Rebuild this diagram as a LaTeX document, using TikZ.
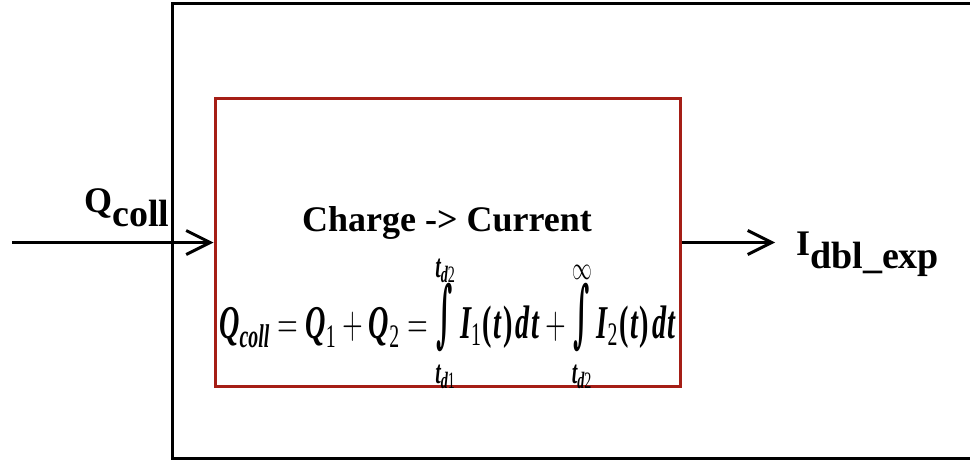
\documentclass[tikz,border=0pt]{standalone}
\usepackage{fix-cm}
\usepackage{amsmath}
\usepackage{graphicx}
\usepackage{fontspec}
\setmainfont{Liberation Serif}
\newfontfamily\intfont{DejaVu Serif}
\usetikzlibrary{arrows.meta}
\definecolor{boxred}{RGB}{165,30,22}
\newcommand{\bi}[1]{\text{\bfseries\itshape #1}}
\newcommand{\ru}[1]{\text{#1}}
\newcommand{\myint}{\mathop{\scalebox{1}[1.55]{\text{\intfont\bfseries ∫}}}\limits}
\newcommand{\uplim}[1]{\raisebox{-3pt}[\height][\depth]{$\scriptstyle #1$}}
\newcommand{\lolim}[1]{\raisebox{-10pt}[\height][\depth]{$\scriptstyle #1$}}
\newcommand{\itdt}[1]{\bi{I}_{\ru{#1}}\mkern1mu\ru{\bfseries(}\mkern1mu\bi{t}\mkern1mu\ru{\bfseries)}\mkern2mu\bi{d}\mkern1mu\bi{t}}
\tikzset{
  lbl/.style={font=\fontsize{36}{38}\selectfont\bfseries, inner sep=0pt},
  flow/.style={line width=3pt, -{Straight Barb[length=24pt,width=24pt]}},
  frame/.style={draw=black, line width=3pt, inner sep=0pt},
  blockbox/.style={draw=boxred, line width=3pt, inner sep=0pt, minimum width=465pt, minimum height=288pt},
  eqn/.style={font=\fontsize{47}{50}\selectfont, inner sep=0pt}
}
\begin{document}
\begin{tikzpicture}[x=1pt,y=-1pt]
\useasboundingbox (0,0) rectangle (970,460);
\clip (0,0) rectangle (970,460);
\node[frame, minimum width=830pt, minimum height=455pt, anchor=north west] (outer) at (170.5,2) {};
\node[blockbox] (conv) at (447.5,242.5) {};
\node[lbl] (title) at (447,223) {Charge -> Current};
\node[eqn, anchor=base] (formula) at (447.5,338) {\scalebox{0.60}[1]{\thickmuskip=5mu\medmuskip=4mu$\bi{Q}_{\bi{coll}} = \bi{Q}_{\ru{1}} + \bi{Q}_{\ru{2}} = \myint_{\lolim{\bi{t}_{\bi{d}\ru{1}}}}^{\uplim{\bi{t}_{\bi{d}\ru{2}}}} \itdt{1} + \myint_{\lolim{\bi{t}_{\bi{d}\ru{2}}}}^{\uplim{\infty}} \itdt{2}$}};
\node[lbl, anchor=base west] (qlab) at (84,212) {Q\raisebox{-14pt}{\fontsize{38}{40}\selectfont coll}};
\node[lbl, anchor=base west] (ilab) at (796,255) {I\raisebox{-13pt}{\fontsize{38}{40}\selectfont dbl\_exp}};
\coordinate (src) at (12,242.5);
\coordinate (dst) at (775,242.5);
\draw[flow] (src) -- (conv.west);
\draw[flow] (conv.east) -- (dst);
\end{tikzpicture}
\end{document}
